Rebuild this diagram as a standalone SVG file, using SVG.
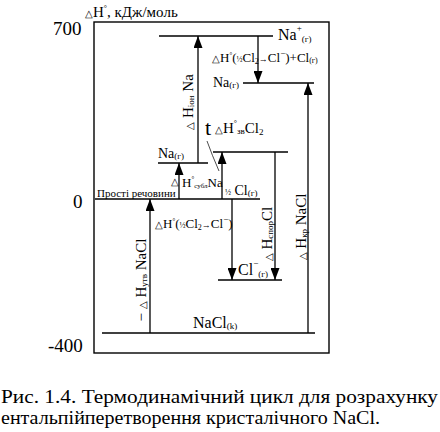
<svg xmlns="http://www.w3.org/2000/svg" width="440" height="432" viewBox="0 0 440 432" font-family="'Liberation Serif', 'Times New Roman', serif">
<style>
text{font-family:"Liberation Serif","Times New Roman",serif;fill:#000}
.lv{stroke:#000;stroke-width:1.4;fill:none}
.ar{stroke:#000;stroke-width:1.3;fill:none;marker-end:url(#ah)}
.f15{font-size:15px}.f14{font-size:14px}.f13{font-size:13px}.f11{font-size:11px}
.s{font-size:9px}.tri{font-size:10px}
</style>
<defs>
<marker id="ah" markerUnits="userSpaceOnUse" markerWidth="12" markerHeight="9" refX="12" refY="4.5" orient="auto">
<path d="M0,0 L12,4.5 L0,9 z" fill="#000"/>
</marker>
</defs>
<rect width="440" height="432" fill="#fff"/>
<g id="axis">
<rect x="94" y="22" width="235" height="331" class="lv"/>
<text x="85" y="17" class="f15"><tspan class="tri">△</tspan>H<tspan dy="-6" font-size="8">°</tspan><tspan dy="6">, кДж/моль</tspan></text>
<text x="53" y="35" font-size="19">700</text>
<text x="73" y="208" font-size="19">0</text>
<text x="48" y="352" font-size="19">-400</text>
</g>
<g id="levels">
<line x1="159" y1="36" x2="273" y2="36" class="lv"/>
<line x1="243" y1="83" x2="314" y2="83" class="lv"/>
<line x1="158" y1="163" x2="208" y2="163" class="lv"/>
<line x1="213" y1="152" x2="288" y2="152" class="lv"/>
<line x1="95" y1="199" x2="260" y2="199" class="lv"/>
<line x1="218" y1="280" x2="282" y2="280" class="lv"/>
<line x1="102" y1="333" x2="315" y2="333" class="lv"/>
</g>
<g id="node-na-plus"><text x="278" y="40" font-size="16">Na<tspan dy="-9" class="s">+</tspan><tspan dy="11" class="s">(г)</tspan></text></g>
<g id="node-na-g-upper"><text x="213" y="87" class="f14">Na<tspan class="s" dy="1">(г)</tspan></text></g>
<g id="node-na-g-lower"><text x="158" y="158" class="f14">Na<tspan class="s" dy="1">(г)</tspan></text></g>
<g id="node-simple"><text x="97" y="197" class="f11">Прості речовини</text></g>
<g id="node-half-cl"><text x="225" y="195" class="f14"><tspan font-size="8">½</tspan> Cl<tspan class="s" dy="1">(г)</tspan></text></g>
<g id="node-cl-minus"><text x="238" y="275" font-size="16">Cl<tspan dy="-9" class="s">−</tspan><tspan dy="11" class="s">(г)</tspan></text></g>
<g id="node-nacl"><text x="193" y="328" font-size="16">NaCl<tspan class="s" dy="1">(k)</tspan></text></g>
<g id="connectors">
<line x1="198" y1="163" x2="198" y2="36" class="ar"/>
<line x1="179" y1="199" x2="179" y2="163" class="ar"/>
<line x1="222" y1="199" x2="222" y2="152" class="ar"/>
<line x1="258" y1="36" x2="258" y2="83" class="ar"/>
<line x1="232" y1="199" x2="232" y2="280" class="ar"/>
<line x1="275" y1="152" x2="275" y2="280" class="ar"/>
<line x1="150" y1="333" x2="150" y2="199" class="ar"/>
<line x1="308" y1="333" x2="308" y2="83" class="ar"/>
<path d="M207,141 Q212,155 219,171" stroke="#000" stroke-width="0.7" fill="none"/>
</g>
<g id="labels">
<text x="212" y="62" class="f13"><tspan class="tri">△</tspan>H<tspan dy="-5" font-size="7">°</tspan><tspan dy="5">(</tspan><tspan font-size="8">½</tspan>Cl<tspan font-size="8" dy="2">2</tspan><tspan font-size="9" dy="-2">→</tspan>Cl<tspan dy="-6" font-size="9">−</tspan><tspan dy="6">)+Cl</tspan><tspan font-size="8" dy="1">(г)</tspan></text>
<text x="155" y="228" class="f13"><tspan class="tri">△</tspan>H<tspan dy="-5" font-size="7">°</tspan><tspan dy="5">(</tspan><tspan font-size="8">½</tspan>Cl<tspan font-size="8" dy="2">2</tspan><tspan font-size="9" dy="-2">→</tspan>Cl<tspan dy="-6" font-size="9">−</tspan><tspan dy="6">)</tspan></text>
<text x="171" y="184.5" font-size="10">△</text>
<text x="182" y="187" class="f13">H<tspan dy="-6" font-size="7">°</tspan><tspan dy="7" font-size="7">субл</tspan><tspan dy="-1">Na</tspan></text>
<text x="205" y="135" font-size="22">t</text>
<text x="215" y="133" class="f15"><tspan class="tri">△</tspan>H<tspan dy="-7" font-size="8">°</tspan><tspan dy="8" class="s">зв</tspan><tspan dy="-1">Cl</tspan><tspan class="s" dy="2">2</tspan></text>
<text x="193" y="102" class="f15" text-anchor="middle" transform="rotate(-90 193 102)"><tspan class="tri">△</tspan> H<tspan class="s" dy="1">іон</tspan><tspan dy="-1"> Na</tspan></text>
<text x="146" y="280" class="f15" text-anchor="middle" transform="rotate(-90 146 280)">− <tspan class="tri">△</tspan> H<tspan class="s" dy="1">утв</tspan><tspan dy="-1"> NaCl</tspan></text>
<text x="272" y="234" class="f15" text-anchor="middle" transform="rotate(-90 272 234)"><tspan class="tri">△</tspan> H<tspan class="s" dy="1">спор</tspan><tspan dy="-1">Cl</tspan></text>
<text x="306" y="227" class="f15" text-anchor="middle" transform="rotate(-90 306 227)"><tspan class="tri">△</tspan> H<tspan class="s" dy="1">кр</tspan><tspan dy="-1"> NaCl</tspan></text>
</g>
<g id="caption">
<text x="1" y="403" font-size="19" textLength="437" lengthAdjust="spacingAndGlyphs">Рис. 1.4. Термодинамічний цикл для розрахунку</text>
<text x="1" y="424" font-size="19" textLength="379" lengthAdjust="spacingAndGlyphs">ентальпійперетворення кристалічного NaCl.</text>
</g>
</svg>
